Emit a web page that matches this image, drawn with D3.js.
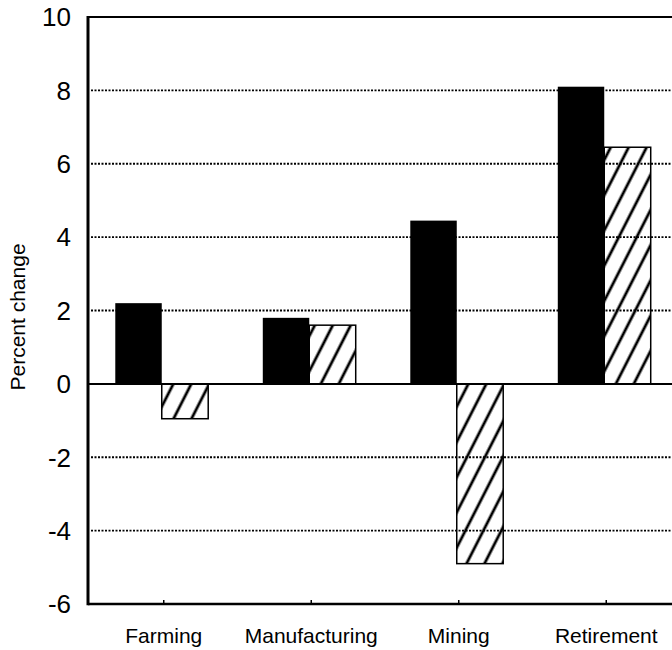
<!DOCTYPE html>
<html>
<head>
<meta charset="utf-8">
<script src="https://cdn.jsdelivr.net/npm/d3@7"></script>
<style>
  body { margin: 0; background: #fff; }
  svg { display: block; font-family: "Liberation Sans", Arial, sans-serif; }
</style>
</head>
<body>
<div id="chart"></div>
<script>
// Chart data
const categories = ["Farming", "Manufacturing", "Mining", "Retirement"];
const seriesNames = ["solid", "hatched"];
const solidValues = [2.2, 1.8, 4.45, 8.1];
const hatchedValues = [-0.95, 1.6, -4.9, 6.45];
const yTicks = [-6, -4, -2, 0, 2, 4, 6, 8, 10];

const width = 672;
const height = 650;
const marginLeft = 88;
const marginTop = 17;
const marginBottom = 46;
const plotRight = 678; // plot runs off the right edge

const svg = d3.select("#chart").append("svg")
    .attr("width", width)
    .attr("height", height);

// Hatch pattern
svg.append("defs").append("pattern")
    .attr("id", "hatch")
    .attr("patternUnits", "userSpaceOnUse")
    .attr("width", 16)
    .attr("height", 10)
    .attr("patternTransform", "rotate(27)")
  .append("line")
    .attr("x1", 2).attr("y1", 0)
    .attr("x2", 2).attr("y2", 10)
    .attr("stroke", "#000")
    .attr("stroke-width", 2.8);

const x0 = d3.scaleBand()
    .domain(categories)
    .range([marginLeft, plotRight])
    .paddingInner(0.37)
    .paddingOuter(0.185);

const x1 = d3.scaleBand()
    .domain(seriesNames)
    .range([0, x0.bandwidth()]);

const y = d3.scaleLinear()
    .domain([-6, 10])
    .range([height - marginBottom, marginTop]);

// Dotted gridlines
svg.append("g")
  .selectAll("line")
  .data(yTicks.filter(d => d !== 0 && d !== 10 && d !== -6))
  .join("line")
    .attr("x1", marginLeft + 3)
    .attr("x2", plotRight)
    .attr("y1", d => y(d))
    .attr("y2", d => y(d))
    .attr("stroke", "#000")
    .attr("stroke-width", 1.8)
    .attr("stroke-dasharray", "2,1.5");

// Bars
const rows = categories.map((c, i) => ({ cat: c, solid: solidValues[i], hatched: hatchedValues[i] }));

const groups = svg.append("g")
  .selectAll("g")
  .data(rows)
  .join("g")
    .attr("transform", d => `translate(${x0(d.cat)},0)`);

groups.selectAll("rect")
  .data(d => seriesNames.map(s => ({ key: s, value: d[s] })))
  .join("rect")
    .attr("x", d => x1(d.key))
    .attr("y", d => y(Math.max(0, d.value)))
    .attr("width", x1.bandwidth())
    .attr("height", d => Math.abs(y(d.value) - y(0)))
    .attr("fill", d => d.key === "solid" ? "#000" : "url(#hatch)")
    .attr("stroke", "#000")
    .attr("stroke-width", d => d.key === "solid" ? 0 : 1.5);

// Zero line
svg.append("line")
    .attr("x1", marginLeft)
    .attr("x2", plotRight)
    .attr("y1", y(0))
    .attr("y2", y(0))
    .attr("stroke", "#000")
    .attr("stroke-width", 2);

// Top border
svg.append("line")
    .attr("x1", marginLeft)
    .attr("x2", plotRight)
    .attr("y1", y(10))
    .attr("y2", y(10))
    .attr("stroke", "#000")
    .attr("stroke-width", 2.2);

// Bottom axis line with small upward ticks
svg.append("line")
    .attr("x1", marginLeft)
    .attr("x2", plotRight)
    .attr("y1", y(-6))
    .attr("y2", y(-6))
    .attr("stroke", "#000")
    .attr("stroke-width", 2.6);

svg.append("g")
  .selectAll("line")
  .data(categories)
  .join("line")
    .attr("x1", d => x0(d) + x0.bandwidth() / 2 + 2)
    .attr("x2", d => x0(d) + x0.bandwidth() / 2 + 2)
    .attr("y1", y(-6))
    .attr("y2", y(-6) - 4)
    .attr("stroke", "#000")
    .attr("stroke-width", 1.5);

// Category labels
svg.append("g")
  .selectAll("text")
  .data(categories)
  .join("text")
    .attr("x", d => x0(d) + x0.bandwidth() / 2 + 2)
    .attr("y", 643)
    .attr("text-anchor", "middle")
    .attr("font-size", 21)
    .attr("fill", "#000")
    .text(d => d);

// Left axis
svg.append("line")
    .attr("x1", marginLeft)
    .attr("x2", marginLeft)
    .attr("y1", y(10) - 1)
    .attr("y2", y(-6) + 1.3)
    .attr("stroke", "#000")
    .attr("stroke-width", 3);

svg.append("g")
  .selectAll("text")
  .data(yTicks)
  .join("text")
    .attr("x", 71)
    .attr("y", d => y(d))
    .attr("dy", "0.36em")
    .attr("text-anchor", "end")
    .attr("font-size", 26)
    .attr("fill", "#000")
    .text(d => d);

// Y axis title
svg.append("text")
    .attr("transform", "translate(25,317) rotate(-90)")
    .attr("text-anchor", "middle")
    .attr("font-size", 21)
    .attr("fill", "#000")
    .text("Percent change");
</script>
</body>
</html>
